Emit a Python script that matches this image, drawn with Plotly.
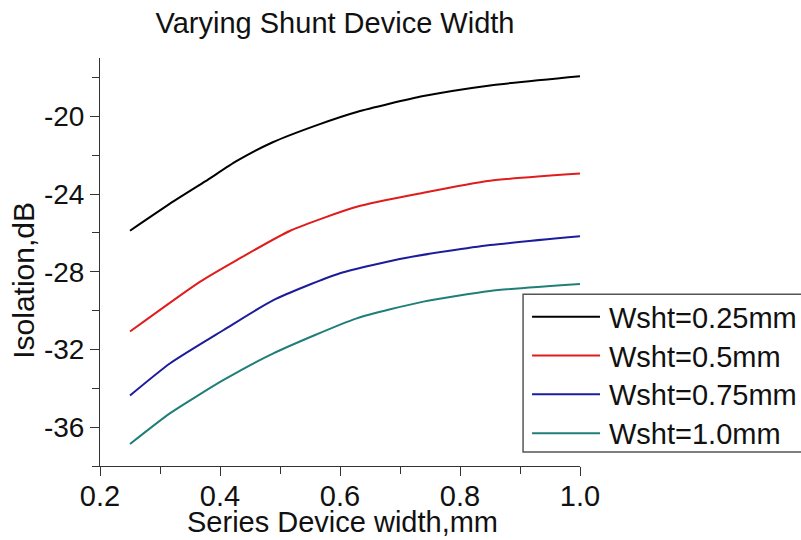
import plotly.graph_objects as go

# Isolation vs series device width for four shunt device widths
names = ["Wsht=0.25mm", "Wsht=0.5mm", "Wsht=0.75mm", "Wsht=1.0mm"]
colors = ["#000000", "#e01c1c", "#1c1c9c", "#1f7f78"]

x_025 = [0.25, 0.323, 0.376, 0.428, 0.487, 0.564, 0.628, 0.739, 0.850, 1.0]
y_025 = [-25.89, -24.37, -23.34, -22.30, -21.35, -20.43, -19.78, -18.96, -18.41, -17.94]

x_050 = [0.25, 0.367, 0.428, 0.517, 0.628, 0.739, 0.850, 1.0]
y_050 = [-31.08, -28.51, -27.40, -25.89, -24.66, -23.94, -23.32, -22.95]

x_075 = [0.25, 0.317, 0.406, 0.489, 0.600, 0.711, 0.850, 1.0]
y_075 = [-34.37, -32.71, -31.00, -29.46, -28.08, -27.28, -26.63, -26.18]

x_100 = [0.25, 0.317, 0.406, 0.489, 0.628, 0.739, 0.850, 1.0]
y_100 = [-36.87, -35.28, -33.57, -32.20, -30.40, -29.54, -28.99, -28.63]

series_x = [x_025, x_050, x_075, x_100]
series_y = [y_025, y_050, y_075, y_100]

x_ticks = [0.2, 0.4, 0.6, 0.8, 1.0]
x_ticktext = ["0.2", "0.4", "0.6", "0.8", "1.0"]
y_ticks = [-36, -32, -28, -24, -20]
y_ticktext = ["-36", "-32", "-28", "-24", "-20"]

FONT = "Liberation Sans, Arial, sans-serif"

W, H = 801, 540
L, R, T, B = 99.5, 221, 57.6, 74
pw, ph = W - L - R, H - T - B


def px(xp):
    return (xp - L) / pw


def py(yp):
    return (H - B - yp) / ph


fig = go.Figure()
for name, c, xs, ys in zip(names, colors, series_x, series_y):
    fig.add_trace(go.Scatter(
        x=xs, y=ys, mode="lines", name=name,
        line=dict(color=c, width=2, shape="spline", smoothing=0.6),
        showlegend=False,
    ))

axis_common = dict(
    showgrid=False, zeroline=False, showline=True, linecolor="#333333",
    linewidth=1, ticks="outside", tickcolor="#333333", ticklen=9,
    tickwidth=1, mirror=False,
)

fig.update_xaxes(
    range=[0.2, 1.0], tickvals=x_ticks, ticktext=x_ticktext,
    tickfont=dict(family=FONT, size=29, color="#111111"),
    ticklabelstandoff=-5,
    minor=dict(dtick=0.1, tick0=0.2, ticks="outside", ticklen=7,
               tickcolor="#333333", tickwidth=1),
    **axis_common,
)
fig.update_yaxes(
    range=[-38, -17], tickvals=y_ticks, ticktext=y_ticktext,
    tickfont=dict(family=FONT, size=28, color="#111111"),
    minor=dict(dtick=2, tick0=-20, ticks="outside", ticklen=7,
               tickcolor="#333333", tickwidth=1),
    **axis_common,
)

# Legend box with line samples and labels
shapes = [dict(
    type="rect", xref="paper", yref="paper",
    x0=px(523), x1=px(812), y0=py(452), y1=py(294),
    line=dict(color="#555555", width=1.5), fillcolor="white", layer="above",
)]
annotations = []
legend_rows = [316.5, 355.5, 394.3, 433.3]
for name, c, yy in zip(names, colors, legend_rows):
    shapes.append(dict(
        type="line", xref="paper", yref="paper",
        x0=px(532), x1=px(600), y0=py(yy), y1=py(yy),
        line=dict(color=c, width=2), layer="above",
    ))
    annotations.append(dict(
        text=name, xref="paper", yref="paper", x=px(607), y=py(yy + 1),
        xanchor="left", yanchor="middle", showarrow=False,
        font=dict(family=FONT, size=29, color="#111111"),
    ))

annotations.append(dict(
    text="Isolation,dB", xref="paper", yref="paper", x=px(23), y=py(280),
    xanchor="center", yanchor="middle", textangle=-90, showarrow=False,
    font=dict(family=FONT, size=30, color="#111111"),
))
annotations.append(dict(
    text="Series Device width,mm", xref="paper", yref="paper",
    x=px(342), y=py(540), xanchor="center", yanchor="bottom",
    showarrow=False, font=dict(family=FONT, size=29, color="#111111"),
))

fig.update_layout(
    width=W, height=H,
    margin=dict(l=L, r=R, t=T, b=B, autoexpand=False),
    paper_bgcolor="white", plot_bgcolor="white",
    title=dict(text="Varying Shunt Device Width", x=335 / W, xref="container",
               y=1 - 23 / H, yref="container", xanchor="center",
               yanchor="middle",
               font=dict(family=FONT, size=29, color="#111111")),
    shapes=shapes, annotations=annotations, showlegend=False,
)

fig.write_html("out.html")
